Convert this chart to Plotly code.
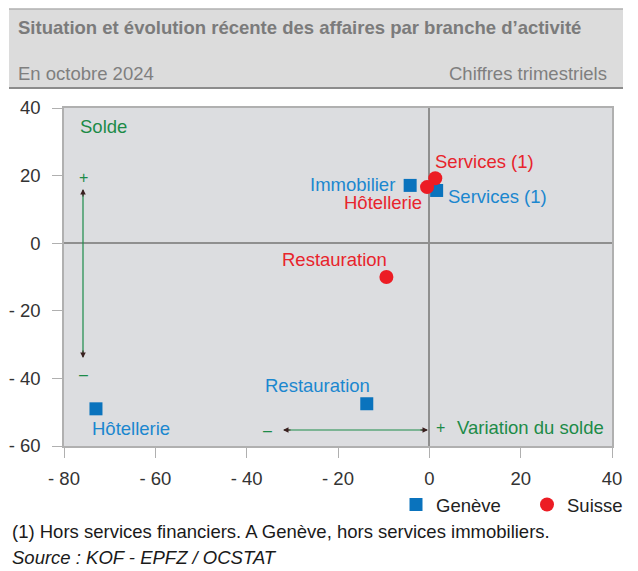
import plotly.graph_objects as go

# ---- data ----
branches_ge = ["Immobilier", "Services (1)", "Restauration", "Hôtellerie"]
var_ge = [-4.2, 1.6, -13.7, -73.0]
solde_ge = [17.1, 15.6, -47.5, -49.0]

branches_ch = ["Services (1)", "Hôtellerie", "Restauration"]
var_ch = [1.3, -0.5, -9.4]
solde_ch = [19.2, 16.6, -10.0]

x_ticks = [-80, -60, -40, -20, 0, 20, 40]
x_ticktext = ["- 80", "- 60", "- 40", "- 20", "0", "20", "40"]
y_ticks = [40, 20, 0, -20, -40, -60]
y_ticktext = ["40", "20", "0", "- 20", "- 40", "- 60"]

BLUE = "#0a73bd"
BLUE_TXT = "#1b87cf"
RED = "#ec1c24"
RED_TXT = "#e8242c"
GREEN = "#1c8b48"
DARK = "#3a1f1f"
FONT = "Liberation Sans, Arial, sans-serif"
FS = 18.5

OFF = 8  # page body margin
W, H = 638 - OFF, 571 - OFF
L, R, T, B = 64 - OFF, 638 - 612, 108 - OFF, 571 - 446
PW, PH = W - L - R, H - T - B


def px(p):  # screen pixel -> paper x
    return (p - OFF - L) / PW


def py(p):  # screen pixel -> paper y
    return (H - B - (p - OFF)) / PH


fig = go.Figure()
fig.add_trace(go.Scatter(x=var_ge, y=solde_ge, mode="markers", name="Genève",
                         marker=dict(symbol="square", size=13, color=BLUE),
                         cliponaxis=False))
fig.add_trace(go.Scatter(x=var_ch, y=solde_ch, mode="markers", name="Suisse",
                         marker=dict(symbol="circle", size=14, color=RED),
                         cliponaxis=False))

annotations = []
shapes = []

# point labels
ge_lab = {
    "Immobilier": dict(xanchor="right", xshift=-13, yshift=1),
    "Services (1)": dict(xanchor="left", xshift=9, yshift=-6),
    "Restauration": dict(xanchor="center", xshift=-49, yshift=18),
    "Hôtellerie": dict(xanchor="left", xshift=-6, yshift=-20),
}
for b, xv, yv in zip(branches_ge, var_ge, solde_ge):
    annotations.append(dict(x=xv, y=yv, xref="x", yref="y", text=b, showarrow=False,
                            yanchor="middle", font=dict(size=FS, color=BLUE_TXT, family=FONT),
                            **ge_lab[b]))
ch_lab = {
    "Services (1)": dict(xanchor="left", xshift=-2, yshift=17),
    "Hôtellerie": dict(xanchor="right", xshift=-3, yshift=-15),
    "Restauration": dict(xanchor="center", xshift=-52, yshift=18),
}
for b, xv, yv in zip(branches_ch, var_ch, solde_ch):
    annotations.append(dict(x=xv, y=yv, xref="x", yref="y", text=b, showarrow=False,
                            yanchor="middle", font=dict(size=FS, color=RED_TXT, family=FONT),
                            **ch_lab[b]))


def txt(x, y, t, color=GREEN, size=FS, xanchor="left", **kw):
    annotations.append(dict(x=px(x), y=py(y), xref="paper", yref="paper", text=t,
                            showarrow=False, xanchor=xanchor, yanchor="middle",
                            font=dict(size=size, color=color, family=FONT), **kw))


# guide annotations
txt(78, 126, "Solde")
txt(83, 177, "+", xanchor="center", size=16)
txt(83, 374, "–", xanchor="center", size=16)
txt(267, 430, "–", xanchor="center", size=16)
txt(434, 427, "+", xanchor="left", size=16)
txt(455, 427, "Variation du solde")

# arrows: green lines with dark heads
shapes.append(dict(type="line", xref="paper", yref="paper", x0=px(83), x1=px(83),
                   y0=py(190), y1=py(357), line=dict(color=GREEN, width=1.2)))
shapes.append(dict(type="line", xref="paper", yref="paper", x0=px(284), x1=px(427),
                   y0=py(430), y1=py(430), line=dict(color=GREEN, width=1.2)))
for (tx, ty, axp, ayp) in [(83, 189, 0, 9), (83, 358, 0, -9), (283, 430, 9, 0), (428, 430, -9, 0)]:
    annotations.append(dict(x=px(tx), y=py(ty), xref="paper", yref="paper", text="",
                            showarrow=True, arrowhead=2, arrowsize=1, arrowwidth=1.1,
                            arrowcolor=DARK, ax=axp, ay=ayp))

# header band
shapes.append(dict(type="rect", xref="paper", yref="paper", x0=px(9), x1=px(623),
                   y0=py(88), y1=py(9), fillcolor="#dcdcdc", line=dict(width=0), layer="below"))
shapes.append(dict(type="line", xref="paper", yref="paper", x0=px(9), x1=px(623),
                   y0=py(9), y1=py(9), line=dict(color="#b0b0b0", width=1.5)))
shapes.append(dict(type="line", xref="paper", yref="paper", x0=px(9), x1=px(623),
                   y0=py(88), y1=py(88), line=dict(color="#8c8c8c", width=2)))
txt(16, 27, "<b>Situation et évolution récente des affaires par branche d’activité</b>",
    color="#7b7b7b")
txt(16, 73, "En octobre 2024", color="#7f7f7f")
txt(609, 73, "Chiffres trimestriels", color="#7f7f7f", xanchor="right")

# footnotes
txt(10, 531, "(1) Hors services financiers. A Genève, hors services immobiliers.",
    color="#1a1a1a")
txt(10, 557, "<i>Source : KOF - EPFZ / OCSTAT</i>", color="#1a1a1a")

fig.update_layout(
    width=W, height=H,
    margin=dict(l=L, r=R, t=T, b=B, pad=0, autoexpand=False),
    paper_bgcolor="white",
    plot_bgcolor="#dcdde0",
    font=dict(family=FONT, size=FS, color="#333333"),
    showlegend=True,
    legend=dict(orientation="h", x=px(396), xanchor="left", y=py(505), yanchor="middle",
                font=dict(size=FS, color="#222222"), itemwidth=30,
                entrywidth=86, bgcolor="rgba(0,0,0,0)", tracegroupgap=0),
    annotations=annotations,
    shapes=shapes,
)
fig.update_xaxes(range=[-80, 40], tickvals=x_ticks, ticktext=x_ticktext,
                 showgrid=False, zeroline=True, zerolinecolor="#8f8f8f", zerolinewidth=1.5,
                 ticks="outside", ticklen=10, tickcolor="#b0b0b0", ticklabelstandoff=5,
                 showline=True, linecolor="#b0b0b0", mirror=True, linewidth=1.5,
                 tickfont=dict(size=FS, color="#333333"))
fig.update_yaxes(range=[-60, 40], tickvals=y_ticks, ticktext=y_ticktext,
                 showgrid=False, zeroline=True, zerolinecolor="#8f8f8f", zerolinewidth=1.5,
                 ticks="outside", ticklen=10, tickcolor="#b0b0b0", ticklabelstandoff=8,
                 showline=True, linecolor="#b0b0b0", mirror=True, linewidth=1.5,
                 tickfont=dict(size=FS, color="#333333"))

fig.write_html("out.html")
